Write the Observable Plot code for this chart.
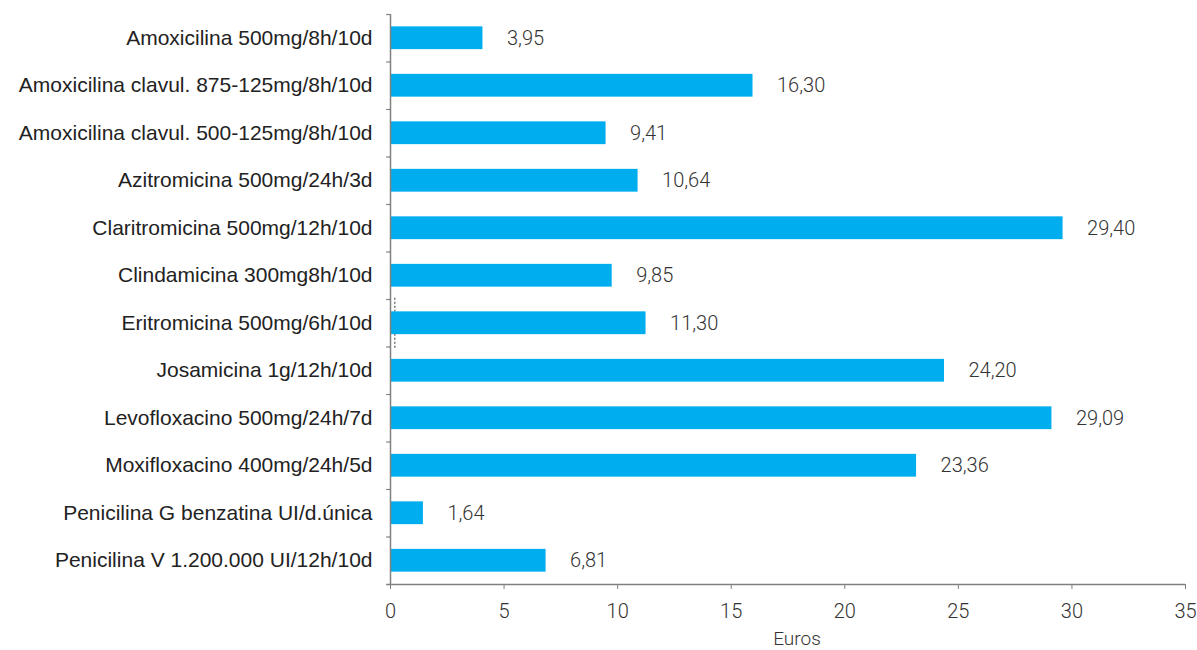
<!DOCTYPE html>
<html>
<head>
<meta charset="utf-8">
<script src="https://cdn.jsdelivr.net/npm/d3@7"></script>
<script src="https://cdn.jsdelivr.net/npm/@observablehq/plot@0.6"></script>
<style>
  html, body { margin: 0; padding: 0; background: #fff; }
  #chart svg { display: block; }
</style>
</head>
<body>
<div id="chart"></div>
<script>
const categories = [
  "Amoxicilina 500mg/8h/10d",
  "Amoxicilina clavul. 875-125mg/8h/10d",
  "Amoxicilina clavul. 500-125mg/8h/10d",
  "Azitromicina 500mg/24h/3d",
  "Claritromicina 500mg/12h/10d",
  "Clindamicina 300mg8h/10d",
  "Eritromicina 500mg/6h/10d",
  "Josamicina 1g/12h/10d",
  "Levofloxacino 500mg/24h/7d",
  "Moxifloxacino 400mg/24h/5d",
  "Penicilina G benzatina UI/d.única",
  "Penicilina V 1.200.000 UI/12h/10d"
];
// bar lengths as drawn in the picture (euros)
const barValues = [4.07, 15.96, 9.49, 10.90, 29.61, 9.76, 11.25, 24.39, 29.12, 23.16, 1.45, 6.85];
// printed value labels
const valueLabels = ["3,95", "16,30", "9,41", "10,64", "29,40", "9,85", "11,30", "24,20", "29,09", "23,36", "1,64", "6,81"];
const xTicks = [0, 5, 10, 15, 20, 25, 30, 35];
const xTitle = ["Euros"];
const dashedMarker = ["Eritromicina 500mg/6h/10d"];

const data = categories.map((c, i) => ({name: c, value: barValues[i], label: valueLabels[i]}));

const W = 1197, H = 650, MT = 14, MB = 66, ML = 390, MR = 12;
const step = (H - MT - MB) / categories.length;
const axisColor = "#808080";
const lightFont = "Roboto, 'Liberation Sans', sans-serif";

const chart = Plot.plot({
  width: W,
  height: H,
  marginLeft: ML,
  marginRight: MR,
  marginTop: MT,
  marginBottom: MB,
  style: {fontFamily: "'Liberation Sans', Arial, sans-serif", background: "#fff", color: "#333"},
  x: {domain: [0, 35], ticks: xTicks},
  y: {domain: categories, paddingInner: 0.52, paddingOuter: 0.26, round: false},
  marks: [
    Plot.tickX(dashedMarker, {x: 0.19, y: d => d, insetTop: -13.5, insetBottom: -13.5, stroke: "#555", strokeWidth: 1.2, strokeDasharray: "2,2"}),
    Plot.barX(data, {x: "value", y: "name", fill: "#00AEEF"}),
    Plot.text(data, {x: "value", y: "name", text: "label", textAnchor: "start", dx: 24, fontSize: 20, fontWeight: 300, fontFamily: lightFont, fill: "#333"}),
    // y axis line
    Plot.ruleX([0], {stroke: axisColor, strokeWidth: 1.5}),
    // band-boundary ticks on the y axis
    Plot.ruleY(categories, {y: d => d, x1: -0.17, x2: 0, dy: -step / 2, stroke: axisColor, strokeWidth: 1.2, clip: false}),
    // bottom axis line (with its left tick)
    Plot.ruleY([categories[categories.length - 1]], {y: d => d, x1: -0.17, x2: 35, dy: step / 2, stroke: axisColor, strokeWidth: 1.5}),
    Plot.axisY({tickSize: 0, tickPadding: 18, fontSize: 21, fill: "#222", label: null}),
    Plot.axisX({ticks: xTicks, tickSize: 5, tickPadding: 14, stroke: axisColor, fontSize: 20, fontWeight: 300, fontFamily: lightFont, fill: "#333", label: null}),
    Plot.text(xTitle, {text: d => d, frameAnchor: "bottom", lineAnchor: "middle", dy: 54, dx: 9, fontSize: 19, fontWeight: 300, fontFamily: lightFont, fill: "#333"})
  ]
});
document.getElementById("chart").appendChild(chart);
</script>
</body>
</html>
